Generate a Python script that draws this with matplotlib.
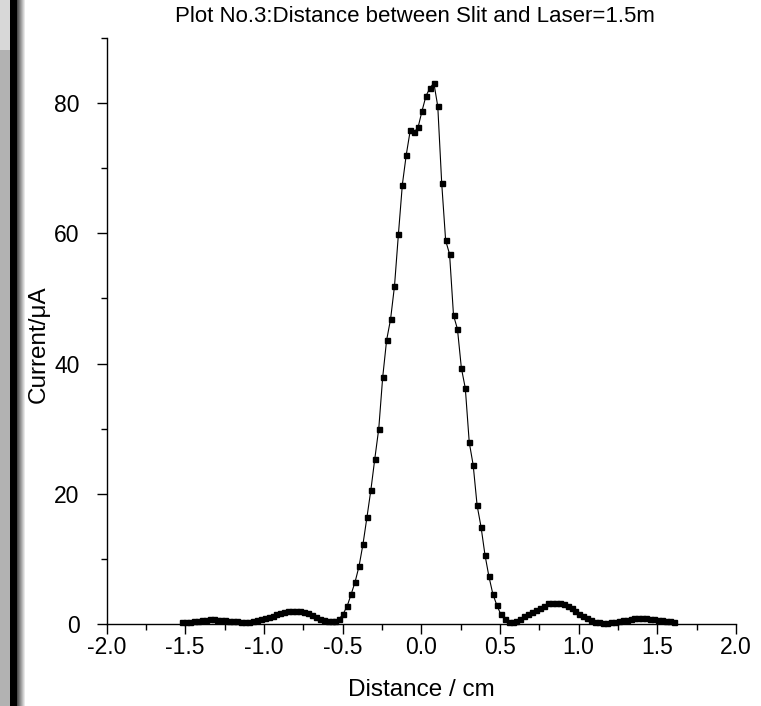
import numpy as np
import matplotlib
matplotlib.use("Agg")
import matplotlib.pyplot as plt
from matplotlib.ticker import MultipleLocator, FormatStrFormatter

plt.rcParams['font.family'] = ['Liberation Sans', 'DejaVu Sans']

# distance (cm): -1.52 .. 1.605 in 0.025 steps
distance = [
    -1.520, -1.495, -1.470, -1.445, -1.420, -1.395, -1.370, -1.345, -1.320, -1.295,
    -1.270, -1.245, -1.220, -1.195, -1.170, -1.145, -1.120, -1.095, -1.070, -1.045,
    -1.020, -0.995, -0.970, -0.945, -0.920, -0.895, -0.870, -0.845, -0.820, -0.795,
    -0.770, -0.745, -0.720, -0.695, -0.670, -0.645, -0.620, -0.595, -0.570, -0.545,
    -0.520, -0.495, -0.470, -0.445, -0.420, -0.395, -0.370, -0.345, -0.320, -0.295,
    -0.270, -0.245, -0.220, -0.195, -0.170, -0.145, -0.120, -0.095, -0.070, -0.045,
    -0.020, 0.005, 0.030, 0.055, 0.080, 0.105, 0.130, 0.155, 0.180, 0.205,
    0.230, 0.255, 0.280, 0.305, 0.330, 0.355, 0.380, 0.405, 0.430, 0.455,
    0.480, 0.505, 0.530, 0.555, 0.580, 0.605, 0.630, 0.655, 0.680, 0.705,
    0.730, 0.755, 0.780, 0.805, 0.830, 0.855, 0.880, 0.905, 0.930, 0.955,
    0.980, 1.005, 1.030, 1.055, 1.080, 1.105, 1.130, 1.155, 1.180, 1.205,
    1.230, 1.255, 1.280, 1.305, 1.330, 1.355, 1.380, 1.405, 1.430, 1.455,
    1.480, 1.505, 1.530, 1.555, 1.580, 1.605,
]

# current (uA)
current = [
    0.30, 0.33, 0.38, 0.45, 0.52, 0.60, 0.66, 0.70, 0.70, 0.68,
    0.63, 0.57, 0.50, 0.44, 0.39, 0.36, 0.35, 0.37, 0.43, 0.55,
    0.72, 0.92, 1.12, 1.30, 1.47, 1.62, 1.78, 1.92, 2.00, 2.00,
    1.96, 1.85, 1.65, 1.38, 1.08, 0.80, 0.58, 0.45, 0.42, 0.50,
    0.80, 1.6, 2.8, 4.6, 6.5, 8.9, 12.3, 16.4, 20.6, 25.4,
    30.0, 37.9, 43.6, 46.8, 51.9, 59.9, 67.5, 72.1, 75.8, 75.5,
    76.3, 78.8, 81.1, 82.3, 83.1, 79.5, 67.7, 58.9, 56.8, 47.4,
    45.3, 39.3, 36.2, 27.9, 24.4, 18.2, 14.9, 10.6, 7.3, 4.6,
    2.9, 1.5, 0.7, 0.35, 0.3, 0.45, 0.8, 1.2, 1.6, 1.85,
    2.1, 2.45, 2.8, 3.15, 3.3, 3.3, 3.2, 3.0, 2.7, 2.4,
    2.0, 1.6, 1.2, 0.85, 0.55, 0.35, 0.25, 0.22, 0.22, 0.25,
    0.32, 0.42, 0.55, 0.67, 0.77, 0.85, 0.88, 0.88, 0.85, 0.80,
    0.73, 0.65, 0.56, 0.48, 0.42, 0.36,
]

fig = plt.figure(figsize=(7.61, 7.06), dpi=100)

# dark frame strip on the left edge
W, H = 761, 706
strip = fig.add_axes([0, 0, 26 / W, 1])
cols = np.ones((H, 26, 3))
cols[:, 0:10] = 0.70
cols[:50, 0:10] = 0.85
cols[:, 10:17] = 0.0
grad = np.linspace(0.30, 1.0, 9)
cols[:, 17:26] = grad[None, :, None]
strip.imshow(cols, aspect='auto', interpolation='nearest')
strip.axis('off')

ax = fig.add_axes([106.5 / W, 82 / H, 629.5 / W, 586 / H])
ax.plot(distance, current, color='black', lw=0.8, marker='s', markersize=3.6,
        markerfacecolor='black', markeredgecolor='black', clip_on=False)

ax.set_xlim(-2.0, 2.0)
ax.set_ylim(0, 90)
ax.xaxis.set_major_locator(MultipleLocator(0.5))
ax.xaxis.set_minor_locator(MultipleLocator(0.25))
ax.yaxis.set_major_locator(MultipleLocator(20))
ax.yaxis.set_minor_locator(MultipleLocator(10))
ax.xaxis.set_major_formatter(FormatStrFormatter('%.1f'))
ax.spines['top'].set_visible(False)
ax.spines['right'].set_visible(False)
for s in ('left', 'bottom'):
    ax.spines[s].set_linewidth(1.0)
ax.tick_params(which='major', direction='out', length=7, width=1.0, labelsize=16.5)
ax.tick_params(axis='x', which='major', pad=2)
ax.tick_params(axis='y', which='major', pad=12.5)
ax.tick_params(which='minor', direction='out', length=4.5, width=1.0)

fig.text(421 / W, 1 - 690 / H, 'Distance / cm', fontsize=17.5, ha='center', va='center')
fig.text(39 / W, 1 - 344 / H, 'Current/μA', fontsize=17.5, rotation=90,
         ha='center', va='center')
fig.text(415 / W, 1 - 17 / H, 'Plot No.3:Distance between Slit and Laser=1.5m',
         fontsize=16, ha='center', va='center')

fig.savefig('out.png', dpi=100)
